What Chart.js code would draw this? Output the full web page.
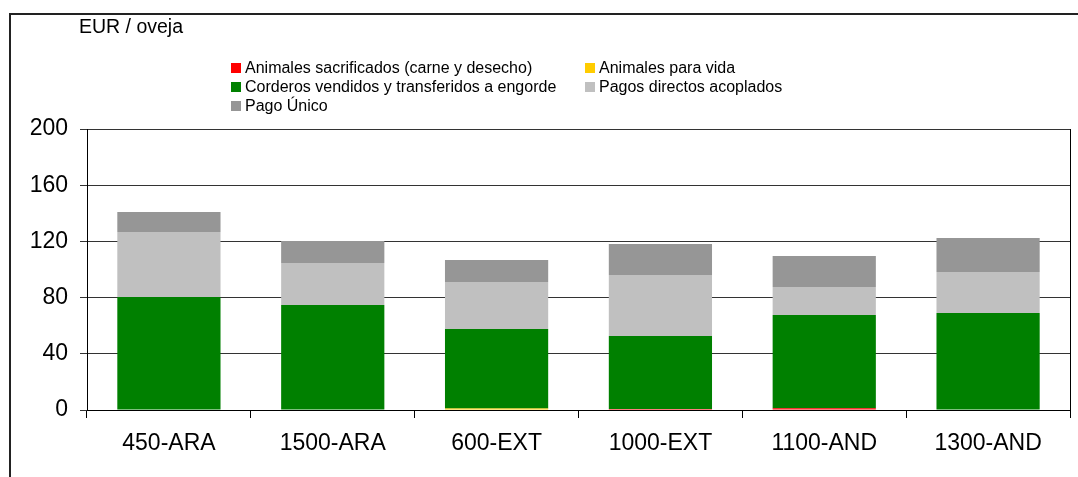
<!DOCTYPE html>
<html>
<head>
<meta charset="utf-8">
<script src="https://cdn.jsdelivr.net/npm/chart.js@4/dist/chart.umd.min.js"></script>
<style>
  body { margin: 0; background: #fff; }
  #wrap { position: relative; width: 1078px; height: 477px; }
</style>
</head>
<body>
<div id="wrap"><canvas id="myChart" width="1078" height="477"></canvas></div>
<script>
const unitLabel = 'EUR / oveja';
const farms = ['450-ARA', '1500-ARA', '600-EXT', '1000-EXT', '1100-AND', '1300-AND'];
const yTicks = [0, 40, 80, 120, 160, 200];

const sacrificados = [0, 0, 0, 0.8, 1.2, 0];
const paraVida = [0, 0, 1, 0, 0, 0];
const corderos = [80.5, 74.7, 56.7, 51.9, 66.4, 69];
const acoplados = [46.2, 29.9, 33.4, 43.4, 19.9, 29.2];
const pagoUnico = [14.2, 15.7, 15.7, 22, 22.1, 24.2];

const seriesNames = [
  'Animales sacrificados (carne y desecho)',
  'Animales para vida',
  'Corderos vendidos y transferidos a engorde',
  'Pagos directos acoplados',
  'Pago Único'
];
const seriesColors = ['#ff0000', '#ffcc00', '#008000', '#c0c0c0', '#969696'];
const seriesData = [sacrificados, paraVida, corderos, acoplados, pagoUnico];

const FONT = 'Arial, "Liberation Sans", sans-serif';

// frame, right border, unit label and the two-column legend
const extras = {
  id: 'extras',
  afterDraw(chart) {
    const c = chart.ctx;
    const a = chart.chartArea;
    c.save();
    c.strokeStyle = '#222';
    c.lineWidth = 2;
    c.beginPath();
    c.moveTo(10, 477);
    c.lineTo(10, 14);
    c.lineTo(1078, 14);
    c.stroke();

    c.strokeStyle = '#000';
    c.lineWidth = 1;
    c.beginPath();
    c.moveTo(Math.round(a.right) + 0.5, a.top);
    c.lineTo(Math.round(a.right) + 0.5, a.bottom + 8);
    c.stroke();

    c.fillStyle = '#000';
    c.font = '19.5px ' + FONT;
    c.textBaseline = 'middle';
    c.fillText(unitLabel, 79, 28);

    c.font = '16px ' + FONT;
    chart.data.datasets.forEach((ds, i) => {
      const x = i % 2 === 0 ? 231 : 585;
      const y = 68 + Math.floor(i / 2) * 19;
      c.fillStyle = ds.backgroundColor;
      c.fillRect(x, y - 5, 10, 10);
      c.fillStyle = '#000';
      c.fillText(ds.label, x + 14, y + 1);
    });
    c.restore();
  }
};

var ctx = document.getElementById('myChart');

var myChart = new Chart(ctx, {
  type: 'bar',
  data: {
    labels: farms,
    datasets: seriesNames.map((name, i) => ({
      label: name,
      data: seriesData[i],
      backgroundColor: seriesColors[i],
      borderWidth: 0,
      categoryPercentage: 1,
      barPercentage: 0.63
    }))
  },
  options: {
    responsive: false,
    animation: false,
    layout: { padding: { top: 129, right: 8, left: 0, bottom: 0 } },
    plugins: {
      legend: { display: false },
      tooltip: { enabled: false }
    },
    scales: {
      x: {
        stacked: true,
        grid: {
          offset: true,
          drawOnChartArea: false,
          drawTicks: true,
          tickLength: 8,
          color: '#000'
        },
        border: { display: true, color: '#000', width: 1 },
        ticks: { color: '#000', font: { family: FONT, size: 23 }, padding: 12 },
        afterFit(scale) { scale.height = 67; }
      },
      y: {
        stacked: true,
        min: 0,
        max: 200,
        afterBuildTicks(scale) { scale.ticks = yTicks.map(v => ({ value: v })); },
        grid: { color: '#333', tickLength: 7, drawTicks: true },
        border: { display: true, color: '#000', width: 1 },
        ticks: { color: '#000', font: { family: FONT, size: 23 }, padding: 12 },
        afterFit(scale) { scale.width = 87; }
      }
    }
  },
  plugins: [extras]
});
</script>
</body>
</html>
